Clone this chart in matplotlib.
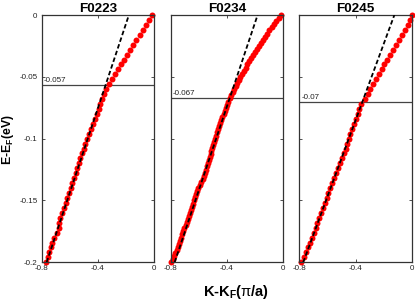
import matplotlib
matplotlib.use("Agg")
import matplotlib.pyplot as plt

plt.rcParams['font.family'] = ['Liberation Sans', 'DejaVu Sans']
plt.rcParams['axes.unicode_minus'] = False
plt.rcParams['mathtext.fontset'] = 'custom'
plt.rcParams['mathtext.rm'] = 'Liberation Sans'
plt.rcParams['mathtext.bf'] = 'Liberation Sans:bold'
plt.rcParams['mathtext.it'] = 'Liberation Sans:italic'

titles = ["F0223", "F0234", "F0245"]
kf_values = [-0.057, -0.067, -0.07]
kf_labels = ["-0.057", "-0.067", "-0.07"]

# Panel 1 (F0223)
E1 = [0.000, -0.004, -0.008, -0.012, -0.016, -0.020, -0.024, -0.028, -0.032, -0.036,
      -0.040, -0.044, -0.048, -0.052, -0.056, -0.060, -0.064, -0.068, -0.072, -0.076,
      -0.080, -0.084, -0.088, -0.092, -0.096, -0.100, -0.104, -0.108, -0.112, -0.116,
      -0.120, -0.124, -0.128, -0.132, -0.136, -0.140, -0.144, -0.148, -0.152, -0.156,
      -0.160, -0.164, -0.168, -0.172, -0.176, -0.180, -0.184, -0.188, -0.192, -0.196,
      -0.200]
k1 = [-0.015, -0.037, -0.060, -0.082, -0.104, -0.126, -0.148, -0.171, -0.193, -0.215,
      -0.237, -0.259, -0.281, -0.303, -0.323, -0.345, -0.357, -0.370, -0.382, -0.395,
      -0.409, -0.422, -0.436, -0.450, -0.464, -0.477, -0.490, -0.502, -0.514, -0.525,
      -0.536, -0.546, -0.557, -0.569, -0.582, -0.594, -0.606, -0.617, -0.628, -0.642,
      -0.657, -0.667, -0.674, -0.680, -0.692, -0.710, -0.724, -0.734, -0.745, -0.756,
      -0.766]

# Panel 2 (F0234)
E2 = [0.0000, -0.0025, -0.0050, -0.0075, -0.0100, -0.0125, -0.0150, -0.0175, -0.0200, -0.0225,
      -0.0250, -0.0275, -0.0300, -0.0325, -0.0350, -0.0375, -0.0400, -0.0425, -0.0450, -0.0475,
      -0.0500, -0.0525, -0.0550, -0.0575, -0.0600, -0.0625, -0.0650, -0.0675, -0.0700, -0.0725,
      -0.0750, -0.0775, -0.0800, -0.0825, -0.0850, -0.0875, -0.0900, -0.0925, -0.0950, -0.0975,
      -0.1000, -0.1025, -0.1050, -0.1075, -0.1100, -0.1125, -0.1150, -0.1175, -0.1200, -0.1225,
      -0.1250, -0.1275, -0.1300, -0.1325, -0.1350, -0.1375, -0.1400, -0.1425, -0.1450, -0.1475,
      -0.1500, -0.1525, -0.1550, -0.1575, -0.1600, -0.1625, -0.1650, -0.1675, -0.1700, -0.1725,
      -0.1750, -0.1775, -0.1800, -0.1825, -0.1850, -0.1875, -0.1900, -0.1925, -0.1950, -0.1975,
      -0.2000]
k2 = [-0.016, -0.033, -0.049, -0.066, -0.082, -0.098, -0.113, -0.129, -0.144, -0.158,
      -0.173, -0.187, -0.201, -0.215, -0.228, -0.242, -0.255, -0.267, -0.280, -0.292,
      -0.304, -0.315, -0.327, -0.338, -0.349, -0.359, -0.370, -0.380, -0.390, -0.398,
      -0.406, -0.415, -0.424, -0.433, -0.443, -0.452, -0.459, -0.465, -0.472, -0.479,
      -0.486, -0.493, -0.501, -0.507, -0.511, -0.516, -0.522, -0.528, -0.534, -0.540,
      -0.546, -0.553, -0.562, -0.572, -0.582, -0.594, -0.605, -0.613, -0.619, -0.625,
      -0.632, -0.639, -0.646, -0.653, -0.660, -0.667, -0.674, -0.681, -0.692, -0.703,
      -0.712, -0.720, -0.727, -0.734, -0.741, -0.749, -0.757, -0.766, -0.775, -0.786,
      -0.799]

# Panel 3 (F0245)
E3 = [0.000, -0.004, -0.008, -0.012, -0.016, -0.020, -0.024, -0.028, -0.032, -0.036,
      -0.040, -0.044, -0.048, -0.052, -0.056, -0.060, -0.064, -0.068, -0.072, -0.076,
      -0.080, -0.084, -0.088, -0.092, -0.096, -0.100, -0.104, -0.108, -0.112, -0.116,
      -0.120, -0.124, -0.128, -0.132, -0.136, -0.140, -0.144, -0.148, -0.152, -0.156,
      -0.160, -0.164, -0.168, -0.172, -0.176, -0.180, -0.184, -0.188, -0.192, -0.196,
      -0.200]
k3 = [-0.002, -0.014, -0.030, -0.050, -0.070, -0.091, -0.112, -0.133, -0.154, -0.175,
      -0.195, -0.215, -0.234, -0.254, -0.274, -0.294, -0.314, -0.336, -0.358, -0.372,
      -0.386, -0.399, -0.412, -0.424, -0.436, -0.447, -0.459, -0.471, -0.484, -0.497,
      -0.510, -0.523, -0.537, -0.551, -0.565, -0.579, -0.593, -0.606, -0.618, -0.632,
      -0.648, -0.660, -0.671, -0.684, -0.698, -0.712, -0.725, -0.739, -0.754, -0.770,
      -0.790]

# Linear fits (dashed): endpoints at E = -0.2 and E = 0
fit_E = [-0.2, 0.0]
fit_k1 = [-0.765, -0.180]
fit_k2 = [-0.772, -0.182]
fit_k3 = [-0.772, -0.124]

xticks = [-0.8, -0.4, 0]
xticklabels = ["-0.8", "-0.4", "0"]
yticks = [0, -0.05, -0.1, -0.15, -0.2]
yticklabels = ["0", "-0.05", "-0.1", "-0.15", "-0.2"]

panels = [(E1, k1, fit_k1), (E2, k2, fit_k2), (E3, k3, fit_k3)]

W, H = 415, 301
fig = plt.figure(figsize=(W / 100, H / 100), dpi=100)
lefts = [41.7, 170.7, 299.3]
aw = 112.5
bottom_px, top_px = 262.3, 15.0

spine_col = '#333333'
for i, (E, k, fk) in enumerate(panels):
    ax = fig.add_axes([lefts[i] / W, (H - bottom_px) / H, aw / W, (bottom_px - top_px) / H])
    ax.plot(k, E, 'o', color='#ff0000', ms=4.3, mec='#ff0000', mew=0, zorder=2, clip_on=False)
    ax.plot(fk, fit_E, color='black', lw=1.3, linestyle=(0, (2.5, 1.4)), zorder=3)
    ax.axhline(kf_values[i], color='#444444', lw=0.9, zorder=1)
    ax.text(-0.785, kf_values[i] + 0.0008, kf_labels[i], fontsize=5.8, ha='left', va='bottom',
            color='#222222')
    ax.set_xlim(-0.8, 0)
    ax.set_ylim(-0.2, 0)
    ax.set_xticks(xticks)
    ax.set_xticklabels(xticklabels)
    ax.set_yticks(yticks)
    if i == 0:
        ax.set_yticklabels(yticklabels)
    else:
        ax.set_yticklabels([])
    ax.tick_params(direction='in', length=2, width=0.6, top=True, right=True,
                   labelsize=5.8, pad=2, colors='#333333', labelcolor='#222222')
    ax.tick_params(axis='y', pad=3)
    for s in ax.spines.values():
        s.set_color(spine_col)
        s.set_linewidth(0.9)
    ax.set_title(titles[i], fontsize=9.7, fontweight='bold', pad=2.0)

fig.text(8 / W, 1 - 140 / H, r'E-E$_{\mathbf{F}}$(eV)', rotation=90, fontsize=8.8,
         fontweight='bold', ha='center', va='center')
fig.text(236 / W, 1 - 292 / H, r'K-K$_{\mathbf{F}}$($\mathrm{\pi}$/a)', fontsize=10.5,
         fontweight='bold', ha='center', va='center')

fig.savefig('out.png', dpi=100)
